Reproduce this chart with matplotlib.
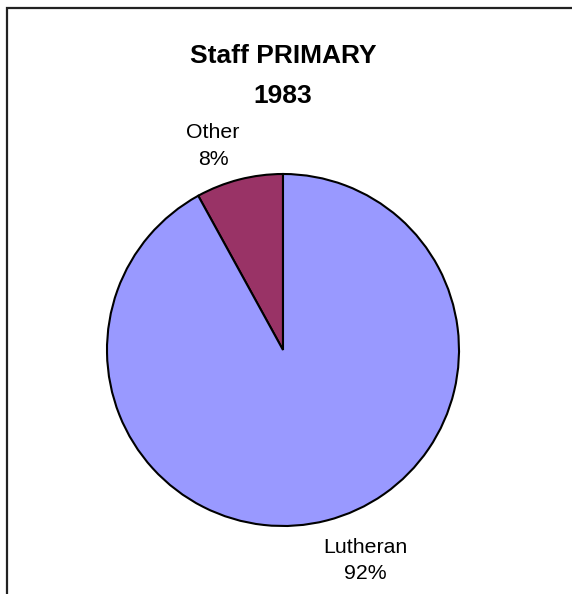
import matplotlib
matplotlib.use("Agg")
import matplotlib.pyplot as plt
from matplotlib.patches import Rectangle

# data
categories = ["Other", "Lutheran"]
shares = [8, 92]
colors = ["#993366", "#9999FF"]
title_lines = ["Staff PRIMARY", "1983"]

plt.rcParams['font.family'] = ['Liberation Sans', 'DejaVu Sans']

W, H = 572, 594
fig = plt.figure(figsize=(W / 100, H / 100), dpi=100)
ax = fig.add_axes([0, 0, 1, 1])

# frame (right and bottom edges fall outside the picture)
ax.add_patch(Rectangle((6.5, -20), 600, H - 7.5 + 20, fill=False,
                       edgecolor='#222222', linewidth=1.6))

cx, cy, r = 283, H - 350, 176
wedges, _ = ax.pie(shares, colors=colors, startangle=90, counterclock=True,
                   center=(cx, cy), radius=r, frame=True,
                   wedgeprops=dict(edgecolor='black', linewidth=1.5))
ax.set_xlim(0, W)
ax.set_ylim(0, H)
ax.set_aspect('equal')
ax.axis('off')

# labels placed like the original (Excel style), baselines in pixels from top
label_pos = [(213, 138, 165), (365, 553, 579)]
for name, val, (lx, b1, b2) in zip(categories, shares, label_pos):
    ax.text(lx, H - b1, name, ha='center', va='baseline', fontsize=15.3)
    ax.text(lx, H - b2, f"{val}%", ha='center', va='baseline', fontsize=15.3)

for line, base in zip(title_lines, [63, 103]):
    ax.text(283, H - base, line, ha='center', va='baseline', fontsize=19,
            fontweight='bold')

fig.savefig("out.png", dpi=100)
